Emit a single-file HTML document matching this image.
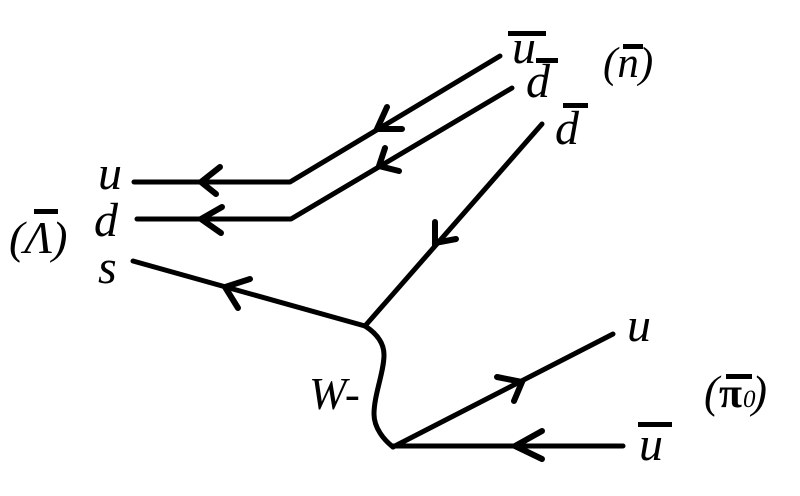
<!DOCTYPE html>
<html>
<head>
<meta charset="utf-8">
<style>
html,body{margin:0;padding:0;background:#fff;width:800px;height:496px;overflow:hidden}
svg{display:block}
text{font-family:"Liberation Serif",serif;font-style:italic;fill:#000;font-size:48px}
.l{fill:none;stroke:#000;stroke-width:5;stroke-linecap:round;stroke-linejoin:round}
.b{fill:none;stroke:#000;stroke-width:6;stroke-linecap:round}
</style>
</head>
<body>
<svg width="800" height="496" viewBox="0 0 800 496" xmlns="http://www.w3.org/2000/svg">
<rect width="800" height="496" fill="#fff"/>
<polyline class="l" points="134,182 290,182 500,56"/>
<polyline class="l" points="137,219 291,219 512,88"/>
<line class="l" x1="133" y1="261" x2="365" y2="326"/>
<line class="l" x1="542" y1="124" x2="365" y2="326"/>
<path class="l" d="M365,326 C376,333 384,342 384,355 C384,372 374,395 374,414 C374,428 384,440 393,447"/>
<line class="l" x1="393" y1="447" x2="613" y2="334"/>
<line class="l" x1="393" y1="446" x2="623" y2="446"/>
<polyline class="b" points="220,167 201,182 216,194"/>
<polyline class="b" points="222,207 201,219 221,233"/>
<polyline class="b" points="250,279 225,287 238,308"/>
<polyline class="b" points="387,107 377,129 402,129"/>
<polyline class="b" points="385,148 379,166 399,171"/>
<polyline class="b" points="435,222 435,243 456,239"/>
<polyline class="b" points="497,377 522,382 514,401"/>
<polyline class="b" points="542,431 515,446 542,459"/>
<text x="98" y="189">u</text>
<text x="94" y="236">d</text>
<text x="98" y="283">s</text>
<text x="9" y="253" style="font-size:46px">(Λ)</text>
<rect x="34" y="209" width="24" height="5"/>
<text x="512" y="63">u</text>
<rect x="508" y="31" width="38" height="5"/>
<text x="526" y="97">d</text>
<rect x="536" y="58" width="22" height="5"/>
<text x="555" y="144">d</text>
<rect x="563" y="103" width="25" height="5"/>
<text x="603" y="77" style="font-size:43px">(n)</text>
<rect x="623" y="44" width="20" height="5"/>
<text x="309" y="409" style="font-size:45px">W-</text>
<text x="627" y="341">u</text>
<text x="639" y="460">u</text>
<rect x="638" y="422" width="34" height="5"/>
<text x="704" y="407" style="font-size:45px">(</text>
<text x="719" y="407" style="font-size:42px;font-weight:bold;font-style:normal">π</text>
<text x="743" y="407" style="font-size:25px">0</text>
<text x="752" y="407" style="font-size:45px">)</text>
<rect x="726" y="374" width="26" height="5"/>
</svg>
</body>
</html>
